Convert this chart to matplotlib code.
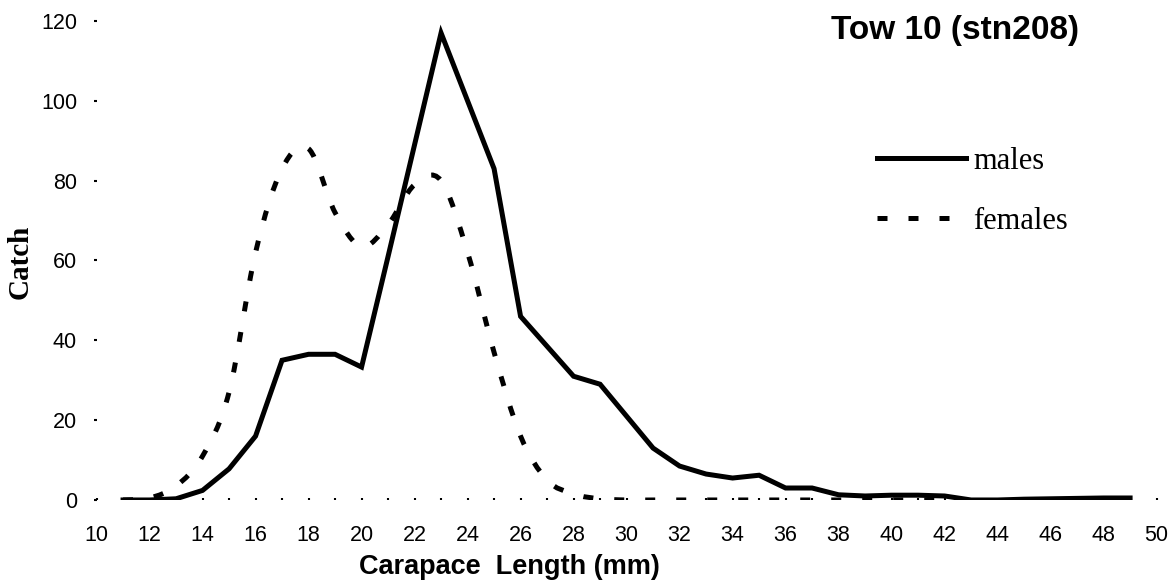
import numpy as np
import matplotlib
matplotlib.use("Agg")
import matplotlib.pyplot as plt
from matplotlib.path import Path
from matplotlib.patches import PathPatch
from matplotlib.lines import Line2D

plt.rcParams["font.family"] = ["Liberation Sans", "DejaVu Sans"]

# carapace length classes (mm) and catch per class
lengths_m = np.arange(11, 50)
males = [0, 0, 0.3, 2.4, 7.8, 16, 35, 36.5, 36.5, 33.3,
         61, 89, 117, 100, 83, 46, 38.5, 31, 29, 21,
         13, 8.5, 6.5, 5.5, 6.2, 3, 3, 1.3, 1, 1.2,
         1.2, 1, 0, 0, 0.2, 0.3, 0.4, 0.5, 0.5]

lengths_f = np.arange(11, 43)
females = [0, 0.5, 3.5, 11, 27, 62, 83, 88, 72, 63.5,
           69, 79, 80, 62, 37, 16, 5, 1.5, 0.3, 0,
           0, 0, 0, 0, 0, 0, 0, 0, 0, 0, 0, 0]

x_ticks = list(range(10, 51, 2))
y_ticks = list(range(0, 121, 20))

DASH = (0, (2.0, 4.2))
LW = 3.6


def smooth_path(x, y):
    # excel-like smoothed line: bezier through every data point
    pts = np.column_stack([x, y]).astype(float)
    verts = [pts[0]]
    codes = [Path.MOVETO]
    n = len(pts)
    for i in range(n - 1):
        p0 = pts[max(i - 1, 0)]
        p1 = pts[i]
        p2 = pts[i + 1]
        p3 = pts[min(i + 2, n - 1)]
        verts += [p1 + (p2 - p0) / 6, p2 - (p3 - p1) / 6, p2]
        codes += [Path.CURVE4] * 3
    return Path(verts, codes)


fig = plt.figure(figsize=(11.76, 5.83), dpi=100)
ax = fig.add_axes([0.0821, 0.1424, 0.9014, 0.8216])

ax.plot(lengths_m, males, color="black", lw=LW, solid_joinstyle="miter")
ax.add_patch(PathPatch(smooth_path(lengths_f, females), fill=False,
                       edgecolor="black", lw=LW, linestyle=DASH,
                       capstyle="butt"))

ax.set_xlim(10, 50)
ax.set_ylim(0, 120)
ax.set_xticks(x_ticks)
ax.set_xticks(range(10, 51), minor=True)
ax.set_yticks(y_ticks)
for s in ax.spines.values():
    s.set_visible(False)
ax.tick_params(axis="x", which="both", direction="in", length=1.5,
               width=1.5, pad=18, labelsize=15.5)
ax.tick_params(axis="y", length=2, width=1.5, pad=12, labelsize=15.5)

fig.text(509 / 1176, 1 - 567 / 583, "Carapace  Length (mm)",
         ha="center", va="center", fontsize=19.5, fontweight="bold")
fig.text(955 / 1176, 1 - 30 / 583, "Tow 10 (stn208)",
         ha="center", va="center", fontsize=24, fontweight="bold")
fig.text(20 / 1176, 1 - 262 / 583, "Catch", rotation=90,
         ha="center", va="center", fontsize=21, fontweight="bold",
         family="Liberation Serif")

handles = [Line2D([], [], color="black", lw=LW),
           Line2D([], [], color="black", lw=LW, linestyle=DASH)]
ax.legend(handles, ["males", "females"], loc="upper left",
          bbox_to_anchor=(877 / 1176, 1 - 147 / 583),
          bbox_transform=fig.transFigure, frameon=False,
          borderpad=0, borderaxespad=0, handlelength=2.9,
          handletextpad=0.25, labelspacing=1.02,
          prop={"family": "Liberation Serif", "size": 22})

fig.savefig("out.png", dpi=100)
